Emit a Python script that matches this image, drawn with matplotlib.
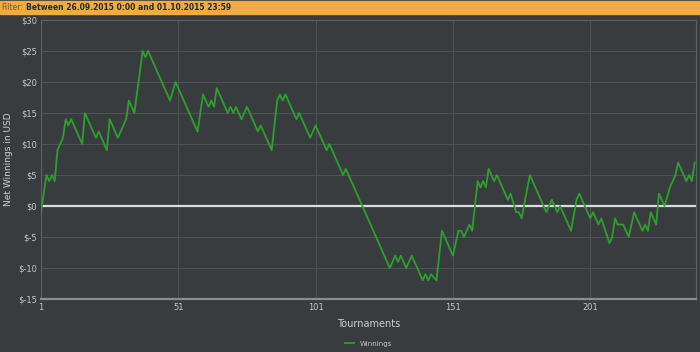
import matplotlib.pyplot as plt
from matplotlib.ticker import FuncFormatter

# turning points of the winnings line
tournament = [1, 3, 4, 5, 6, 7, 9, 10, 11, 12, 16, 17, 21, 22, 25, 26, 29, 32, 33, 35,
              38, 39, 40, 48, 50, 58, 60, 62, 63, 64, 65, 69, 70, 71, 72, 74, 76, 80,
              81, 85, 87, 88, 89, 90, 94, 95, 99, 101, 105, 106, 111, 112, 128, 130,
              131, 132, 134, 135, 136, 140, 141, 142, 143, 145, 147, 151, 153, 154,
              155, 157, 158, 160, 161, 162, 163, 164, 166, 167, 171, 172, 174, 175,
              176, 179, 185, 187, 189, 190, 194, 196, 197, 201, 202, 204, 205, 208,
              209, 210, 211, 213, 215, 217, 220, 221, 222, 223, 225, 226, 228, 230,
              231, 232, 233, 236, 237, 238, 239]
winnings = [-1, 5, 4, 5, 4, 9, 11, 14, 13, 14, 10, 15, 11, 12, 9, 14, 11, 14, 17, 15,
            25, 24, 25, 17, 20, 12, 18, 16, 17, 16, 19, 15, 16, 15, 16, 14, 16, 12,
            13, 9, 17, 18, 17, 18, 14, 15, 11, 13, 9, 10, 5, 6, -10, -8,
            -9, -8, -10, -9, -8, -12, -11, -12, -11, -12, -4, -8, -4, -4,
            -5, -3, -4, 4, 3, 4, 3, 6, 4, 5, 1, 2, -1, -1,
            -2, 5, -1, 1, -1, 0, -4, 1, 2, -2, -1, -3, -2, -6,
            -5, -2, -3, -3, -5, -1, -4, -3, -4, -1, -3, 2, 0, 3,
            4, 5, 7, 4, 5, 4, 7]
xticks = [1, 51, 101, 151, 201]
yticks = [-15, -10, -5, 0, 5, 10, 15, 20, 25, 30]

bg = '#393c3f'
fig = plt.figure(figsize=(7, 3.52), dpi=100, facecolor=bg)
ax = fig.add_axes([41/700, 1 - 299/352, 655/700, 279/352])
ax.set_facecolor(bg)

ax.plot(tournament, winnings, color='#2f9e2f', lw=1.3, label='Winnings', zorder=3)
ax.axhline(0, color='#dcdcdc', lw=1.6, zorder=2)

ax.set_xlim(1, 239.5)
ax.set_ylim(-15, 30)
ax.set_xticks(xticks)
ax.set_yticks(yticks)
ax.yaxis.set_major_formatter(FuncFormatter(lambda v, p: '$%d' % v))
ax.grid(True, color='#505357', lw=0.7)
ax.tick_params(length=0, labelsize=6, colors='#c8c8c8', pad=3)

for s in ['top', 'right', 'left']:
    ax.spines[s].set_color('#5e6165')
    ax.spines[s].set_linewidth(0.8)
ax.spines['bottom'].set_color('#8a8d90')
ax.spines['bottom'].set_linewidth(1.6)

ax.set_xlabel('Tournaments', fontsize=7, color='#d0d0d0', labelpad=5)
ax.set_ylabel('Net Winnings in USD', fontsize=6.5, color='#d0d0d0')
ax.yaxis.set_label_coords(-28/655, 0.5)

leg = ax.legend(loc='center', bbox_to_anchor=(0.5, -0.16), frameon=False,
                fontsize=5, handlelength=1.2, labelcolor='#c8c8c8')

# orange filter bar on top
fig.patches.append(plt.Rectangle((0, 1 - 14/352), 1, 13/352, transform=fig.transFigure,
                                 color='#f0ab45', zorder=0))
fig.text(1/700, 1 - 7.5/352, 'Filter:', fontsize=5.5, color='#7a5a28', va='center')
fig.text(26/700, 1 - 7.5/352, 'Between 26.09.2015 0:00 and 01.10.2015 23:59',
         fontsize=5.5, color='#2a2a2a', va='center', fontweight='bold')

fig.savefig('out.png', facecolor=bg)
